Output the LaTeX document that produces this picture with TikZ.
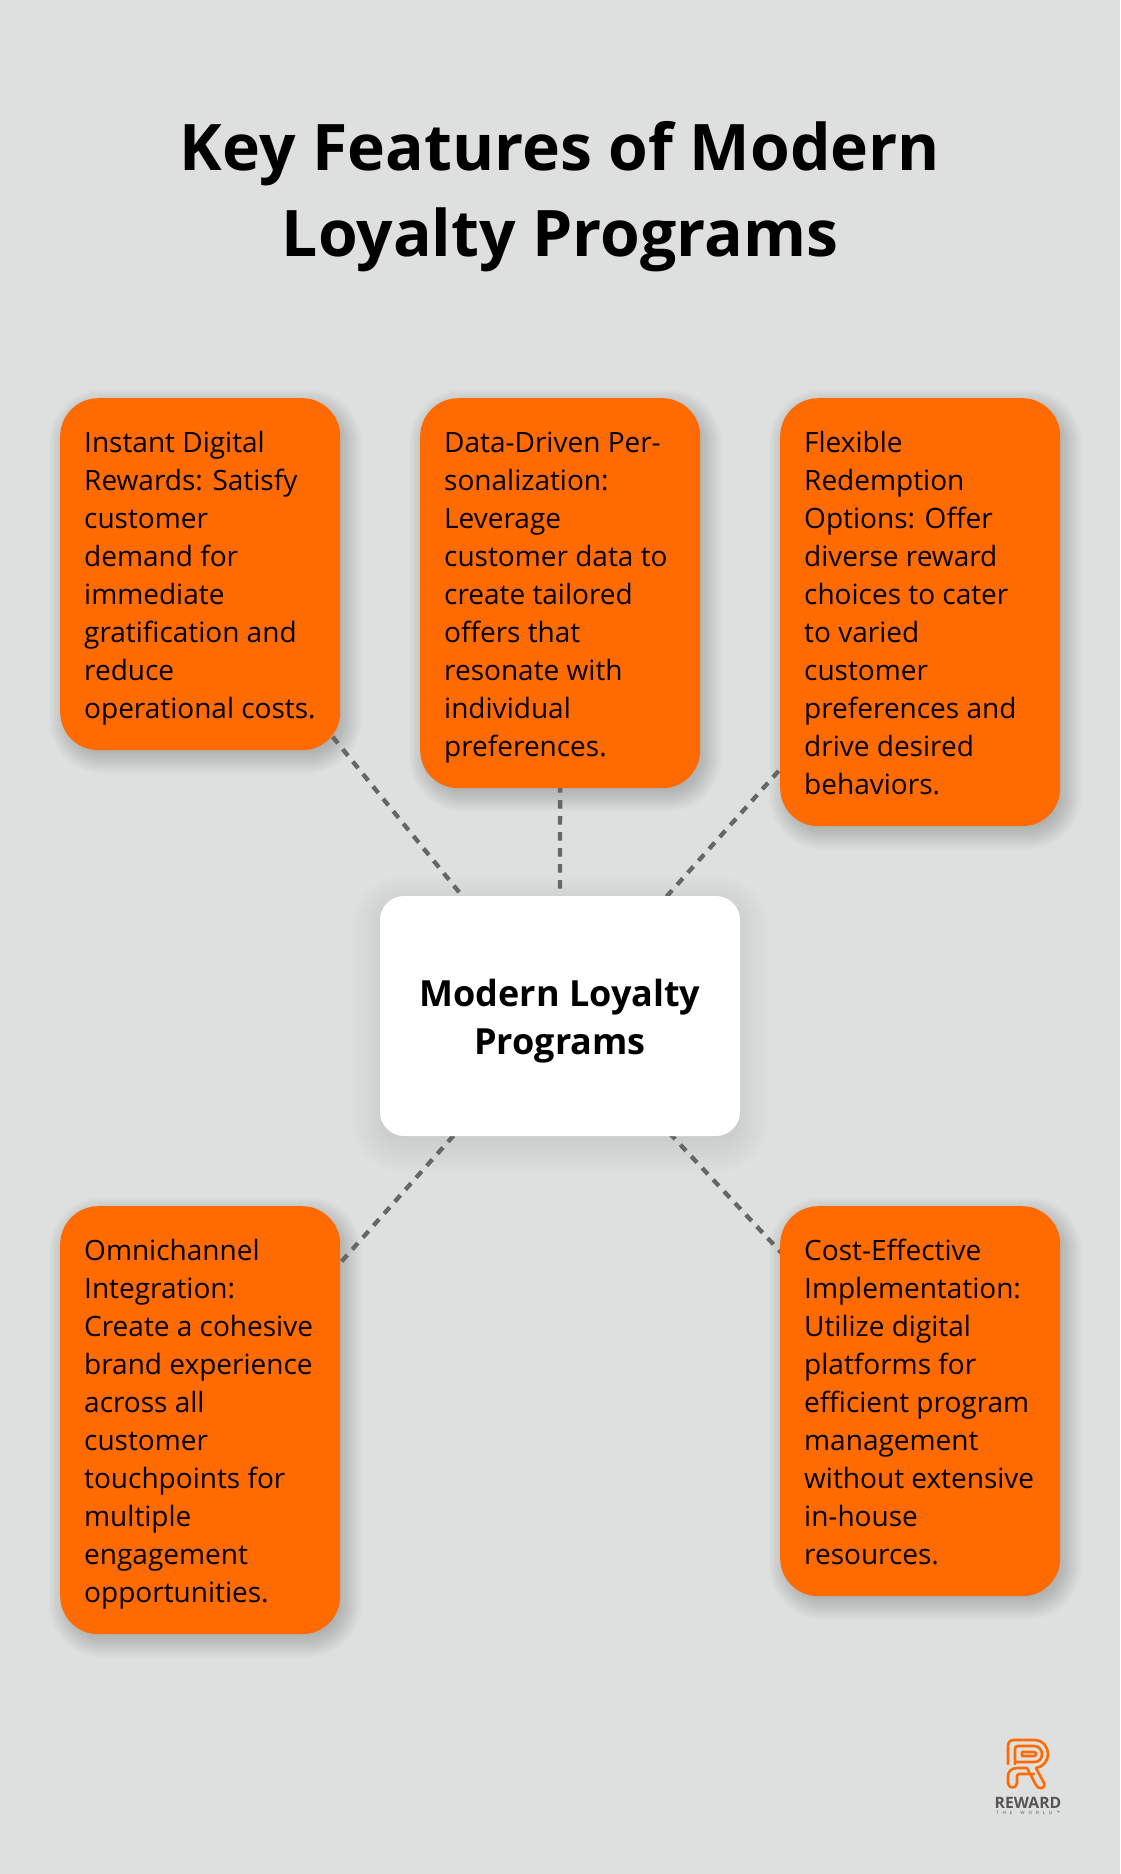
\documentclass[tikz,border=0pt]{standalone}
\usepackage{fontspec}
\setmainfont{Open Sans}
\usetikzlibrary{calc}
\pgfdeclarelayer{pagelayer}
\pgfdeclarelayer{shadowlayer}
\pgfdeclarelayer{connlayer}
\pgfsetlayers{pagelayer,shadowlayer,connlayer,main}
\definecolor{pagebg}{HTML}{DDE0DF}
\definecolor{boxorange}{HTML}{FF6B00}
\definecolor{dashgrey}{HTML}{666666}
\definecolor{logogrey}{HTML}{555555}
\tikzset{
  featurebox/.style={fill=boxorange,rounded corners=38pt,minimum width=280pt,anchor=north west,inner sep=0pt,text=black},
  hubbox/.style={fill=white,rounded corners=24pt,minimum width=360pt,minimum height=240pt,inner sep=0pt},
  hubtext/.style={anchor=base,inner sep=0pt,align=center,font=\fontsize{36}{48}\selectfont\bfseries},
  featuretext/.style={anchor=north west,inner sep=0pt,align=left,font=\fontsize{28}{38}\selectfont},
  linkline/.style={draw=dashgrey,line width=4.3pt,dash pattern=on 8.4pt off 7.6pt},
  logoline/.style={draw=boxorange,line width=2.6pt,line cap=round,line join=round}
}
\newcommand{\softshadow}[6]{% node, radius, dx, dy, blur, opacity
  \begin{pgfonlayer}{shadowlayer}
  \foreach \k in {0,...,#5}{
    \pgfmathsetmacro{\e}{2*\k-#5}
    \pgfmathsetmacro{\rr}{max(#2+\e,1)}
    \fill[black,opacity=#6,rounded corners=\rr pt]
      ($(#1.north west)+(#3,#4)+(-\e,-\e)$) rectangle ($(#1.south east)+(#3,#4)+(\e,\e)$);
  }
  \end{pgfonlayer}}
\begin{document}
\begin{tikzpicture}[x=1pt,y=-1pt]
\begin{pgfonlayer}{pagelayer}
\fill[pagebg] (0,0) rectangle (1120,1874);
\end{pgfonlayer}
\useasboundingbox (0,0) rectangle (1120,1874);

\node[anchor=base,align=center,font=\fontsize{64.2}{86}\selectfont\bfseries] (title) at (560,256) {Key Features of Modern\\Loyalty Programs};

\node[featurebox,minimum height=352pt] (b1) at (60,398) {};
\node[featurebox,minimum height=390pt] (b2) at (420,398) {};
\node[featurebox,minimum height=428pt] (b3) at (780,398) {};
\node[featurebox,minimum height=428pt] (b4) at (60,1206) {};
\node[featurebox,minimum height=390pt] (b5) at (780,1206) {};
\node[hubbox] (hub) at (560,1016) {};
\node[hubtext] (hubt) at (560,1054) {Modern Loyalty\\Programs};

\node[featuretext] (t1) at (84,425.4) {\strut Instant Digital\\Rewards: Satisfy\\customer\\demand for\\immediate\\gratification and\\reduce\\operational costs.};
\node[featuretext] (t2) at (444,425.4) {\strut Data-Driven Per-\\sonalization:\\Leverage\\customer data to\\create tailored\\offers that\\resonate with\\individual\\preferences.};
\node[featuretext] (t3) at (804,425.4) {\strut Flexible\\Redemption\\Options: Offer\\diverse reward\\choices to cater\\to varied\\customer\\preferences and\\drive desired\\behaviors.};
\node[featuretext] (t4) at (84,1233.4) {\strut Omnichannel\\Integration:\\Create a cohesive\\brand experience\\across all\\customer\\touchpoints for\\multiple\\engagement\\opportunities.};
\node[featuretext] (t5) at (804,1233.4) {\strut Cost-Effective\\Implementation:\\Utilize digital\\platforms for\\efficient program\\management\\without extensive\\in-house\\resources.};

\softshadow{b1}{38}{5}{7}{16}{0.015}
\softshadow{b2}{38}{5}{7}{16}{0.015}
\softshadow{b3}{38}{5}{7}{16}{0.015}
\softshadow{b4}{38}{5}{7}{16}{0.015}
\softshadow{b5}{38}{5}{7}{16}{0.015}
\softshadow{hub}{24}{0}{8}{30}{0.005}

\begin{pgfonlayer}{connlayer}
\draw[linkline,dash phase=14.3pt] (b1.center) -- (hub.center);
\draw[linkline,dash phase=1pt] (b2.center) -- (hub.center);
\draw[linkline,dash phase=11.3pt] (b3.center) -- (hub.center);
\draw[linkline,dash phase=11.3pt] (b4.center) -- (hub.center);
\draw[linkline,dash phase=9.2pt] (b5.center) -- (hub.center);
\end{pgfonlayer}

% logo
\coordinate (logoorigin) at (1007,1739);
\begin{scope}[shift={(logoorigin)}]
\draw[logoline] (1,25) -- (1,7) .. controls (1,3) and (3,1) .. (7,1) -- (27,1) .. controls (36,1) and (41,8) .. (41,15) .. controls (41,22) and (36,28) .. (29,29) -- (37,44) .. controls (39,50) and (31,51) .. (29,46) -- (20,29) -- (10,29) .. controls (4,29) and (1,33) .. (1,37) -- (1,44) .. controls (1,50) and (10,50) .. (10,44) -- (10,37) .. controls (10,36) and (11,35) .. (12,35) -- (27,35);
\draw[logoline] (8,25) -- (8,10) .. controls (8,8) and (9,7) .. (11,7) -- (27,7) .. controls (32,7) and (35,11) .. (35,15) .. controls (35,20) and (32,23) .. (27,23) -- (10,23);
\draw[logoline] (15,17) -- (15,13) -- (27,13) .. controls (30,13) and (30,17) .. (27,17) -- cycle;
\end{scope}
\node[anchor=base,inner sep=0pt,text=logogrey,font=\fontsize{15.7}{16}\selectfont\bfseries] (logoword) at (1028,1808) {REWARD};
\node[anchor=base,inner sep=0pt,text=logogrey,font=\fontsize{4.5}{5}\selectfont,text width=64pt,align=justify] (logotag) at (1028,1814) {T\hfill H\hfill E\hfill\hfill W\hfill O\hfill R\hfill L\hfill D\hfill ™};
\end{tikzpicture}
\end{document}
